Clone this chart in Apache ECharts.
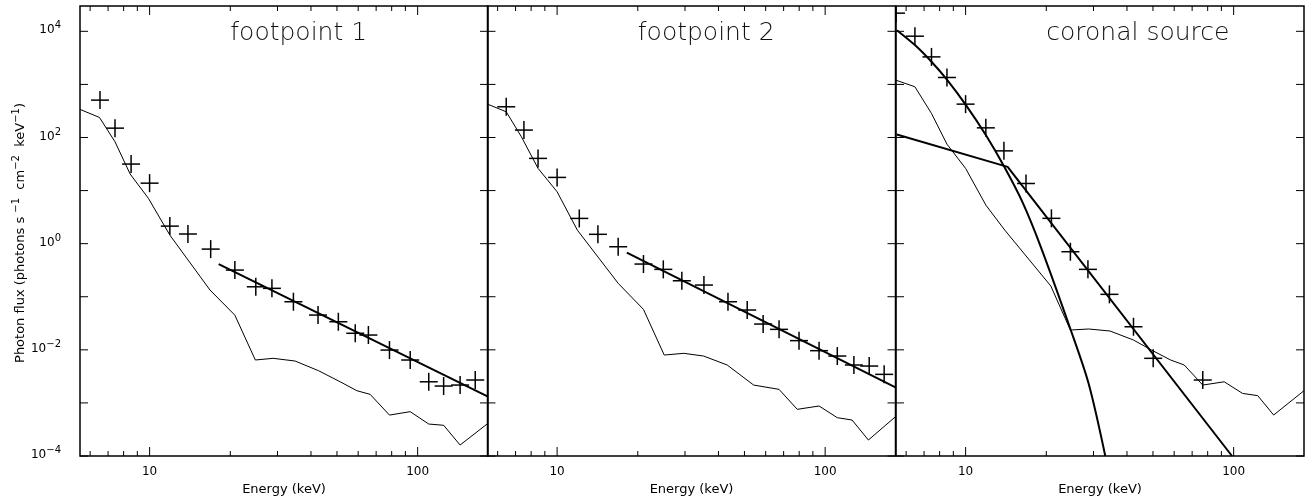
<!DOCTYPE html>
<html>
<head>
<meta charset="utf-8">
<script src="https://cdn.jsdelivr.net/npm/echarts@6/dist/echarts.min.js"></script>
<style>
  html, body { margin: 0; padding: 0; background: #fff; }
  #chart { width: 1309px; height: 500px; }
</style>
</head>
<body>
<div id="chart"></div>
<script>
// axes
const xRange = [5.5, 183];
const yRange = [1e-4, 3e4];
const xMajorTicks = [10, 100];
const xMinorTicks = [6, 7, 8, 9, 20, 30, 40, 50, 60, 70, 80, 90];
const yTicks = [1e-4, 1e-3, 1e-2, 1e-1, 1, 10, 1e2, 1e3, 1e4];
const yTickExponents = ['−4', '', '−2', '', '0', '', '2', '', '4'];
const panelTitles = ['footpoint 1', 'footpoint 2', 'coronal source'];
const titleEnergy = 20;

// footpoint 1
const fp1Energy = [6.53, 7.43, 8.53, 10.0, 11.9, 13.9, 16.9, 20.8, 24.9, 28.6, 34.4, 42.5, 50.6, 58.5, 65.5, 78.5, 93.8, 110, 125, 144, 164];
const fp1Flux = [506, 150, 31.6, 13.8, 2.14, 1.52, 0.79, 0.318, 0.154, 0.144, 0.0805, 0.0452, 0.0338, 0.0205, 0.019, 0.0099, 0.00643, 0.0025, 0.00208, 0.00217, 0.0027];
const fp1BgEnergy = [5.5, 6.5, 7.43, 8.46, 9.9, 11.9, 16.8, 20.8, 24.8, 28.9, 34.9, 42.7, 51.4, 59.3, 66.5, 78.5, 93.8, 110, 125, 144, 183];
const fp1BgFlux = [338, 239, 83, 20.5, 7.13, 1.45, 0.134, 0.045, 0.00643, 0.00692, 0.00615, 0.00404, 0.0025, 0.0017, 0.00145, 0.00059, 0.000684, 0.0004, 0.000379, 0.000161, 0.000413];
const fp1FitEnergy = [18.1, 183];
const fp1FitFlux = [0.413, 0.00131];

// footpoint 2
const fp2Energy = [6.46, 7.52, 8.49, 10.0, 12.1, 14.2, 16.9, 21.0, 24.9, 29.2, 35.3, 43.4, 51.2, 58.7, 67.3, 79.9, 94.9, 111, 128, 146, 166];
const fp2Flux = [379, 138, 40.4, 17.7, 2.99, 1.5, 0.875, 0.413, 0.328, 0.2, 0.166, 0.0805, 0.0562, 0.0306, 0.0243, 0.0149, 0.00964, 0.00764, 0.00518, 0.00495, 0.00345];
const fp2BgEnergy = [5.5, 6.46, 7.36, 8.49, 10.0, 11.9, 16.9, 21.0, 25.1, 29.7, 35.2, 43.1, 54.1, 67.3, 78.7, 94.9, 111, 126, 145, 183];
const fp2BgFlux = [425, 305, 103, 26.2, 9.5, 1.8, 0.179, 0.0578, 0.00798, 0.00859, 0.00764, 0.00518, 0.00217, 0.0018, 0.000757, 0.000875, 0.000527, 0.000476, 0.0002, 0.00055];
const fp2FitEnergy = [18.2, 183];
const fp2FitFlux = [0.675, 0.00197];

// coronal source
const csEnergy = [5.5, 6.47, 7.46, 8.52, 10.0, 11.9, 13.9, 16.8, 20.9, 24.6, 28.6, 34.4, 42.3, 50.1, 76.7];
const csFlux = [2.2e4, 8.1e3, 3.3e3, 1.35e3, 425, 152, 56, 13.6, 3.0, 0.705, 0.328, 0.111, 0.0272, 0.00692, 0.0027];
const csBgEnergy = [5.5, 6.47, 7.46, 8.52, 10.0, 11.9, 14.0, 20.8, 24.6, 28.8, 34.6, 42.3, 49.4, 58.2, 65.4, 76.7, 92.2, 108, 123, 141, 183];
const csBgFlux = [1200, 902, 284, 75, 26.2, 5.33, 1.8, 0.159, 0.0236, 0.0247, 0.0226, 0.0153, 0.0099, 0.00643, 0.00518, 0.00217, 0.0025, 0.00151, 0.00137, 0.000591, 0.0017];
const csThermalEnergy = [5.54, 6.47, 7.46, 8.52, 10.06, 11.93, 13.94, 16.3, 19.06, 24.6, 28.8, 33.2];
const csThermalFlux = [1.05e4, 5.5e3, 2.67e3, 1.23e3, 399, 109, 28.1, 6.07, 0.881, 0.0247, 0.00227, 1e-4];
const csNonthEnergy = [5.54, 14.35, 98.6];
const csNonthFlux = [114, 28, 1e-4];

const panels = [
  {crossE: fp1Energy, crossF: fp1Flux, thin: [[fp1BgEnergy, fp1BgFlux]], thick: [[fp1FitEnergy, fp1FitFlux]]},
  {crossE: fp2Energy, crossF: fp2Flux, thin: [[fp2BgEnergy, fp2BgFlux]], thick: [[fp2FitEnergy, fp2FitFlux]]},
  {crossE: csEnergy, crossF: csFlux, thin: [[csBgEnergy, csBgFlux]], thick: [[csThermalEnergy, csThermalFlux], [csNonthEnergy, csNonthFlux]]}
];

const FONT = 'DejaVu Sans';
const zip = (a, b) => a.map((v, i) => [v, b[i]]);
const seg = (x1, y1, x2, y2, w) => ({type: 'line', shape: {x1, y1, x2, y2}, style: {stroke: '#000', lineWidth: w}});
const txt = (x, y, text, size, align, extra) => Object.assign({
  type: 'text', x, y,
  style: {text, x: 0, y: 0, fill: '#000', fontSize: size, fontFamily: FONT, align, verticalAlign: 'middle'}
}, extra || {});
// rich text with raised exponents
const supRich = (base, sup) => ({
  n: {fontSize: base, fontFamily: FONT, fill: '#000'},
  s: {fontSize: sup, fontFamily: FONT, fill: '#000', padding: [0, 0, Math.round(base * 0.75), 0]}
});

// "+" marks clipped to the plot box
function renderCross(params, api) {
  const p = api.coord([api.value(0), api.value(1)]);
  const cs = params.coordSys;
  const cx = v => Math.min(Math.max(v, cs.x), cs.x + cs.width);
  const cy = v => Math.min(Math.max(v, cs.y), cs.y + cs.height);
  return {type: 'group', children: [
    seg(cx(p[0] - 9), cy(p[1]), cx(p[0] + 9), cy(p[1]), 1.5),
    seg(cx(p[0]), cy(p[1] - 9), cx(p[0]), cy(p[1] + 9), 1.5)
  ]};
}

// tick marks, tick labels and titles of one panel
function frameRenderer(idx) {
  return function (params, api) {
    const cs = params.coordSys;
    const top = cs.y, bottom = cs.y + cs.height, left = cs.x, right = cs.x + cs.width;
    const ch = [];
    xMajorTicks.forEach(v => {
      const x = api.coord([v, 1])[0];
      ch.push(seg(x, bottom, x, bottom - 9, 1), seg(x, top, x, top + 9, 1));
      ch.push(txt(x, bottom + 16, String(v), 12, 'center'));
    });
    xMinorTicks.forEach(v => {
      const x = api.coord([v, 1])[0];
      ch.push(seg(x, bottom, x, bottom - 5, 1), seg(x, top, x, top + 5, 1));
    });
    yTicks.forEach((v, i) => {
      const y = api.coord([10, v])[1];
      ch.push(seg(left, y, left + 8, y, 1), seg(right, y, right - 8, y, 1));
      if (idx === 0 && yTickExponents[i]) {
        ch.push({type: 'text', x: left - 19, y: y - 1,
          style: {text: '{n|10}{s|' + yTickExponents[i] + '}', x: 0, y: 0, align: 'right', verticalAlign: 'middle',
                  rich: supRich(12, 10)}});
      }
    });
    ch.push(txt((left + right) / 2, bottom + 34, 'Energy (keV)', 13, 'center'));
    const tx = api.coord([titleEnergy, 1])[0];
    ch.push({type: 'text', x: tx, y: top + 27,
      style: {text: panelTitles[idx], x: 0, y: 0, fill: '#111', fontSize: 25, fontWeight: 200,
              fontFamily: FONT, align: 'left', verticalAlign: 'middle'}});
    if (idx === 0) {
      ch.push({type: 'text', x: 21, y: (top + bottom) / 2 + 2, rotation: Math.PI / 2,
        style: {text: '{n|Photon flux (photons s }{s|−1}{n|  cm}{s|−2}{n|  keV}{s|−1}{n|)}',
                x: 0, y: 0, align: 'center', verticalAlign: 'middle', rich: supRich(13, 10)}});
    }
    return {type: 'group', children: ch};
  };
}

const grids = [], xAxes = [], yAxes = [], series = [];
panels.forEach((p, i) => {
  grids.push({left: [80, 487.5, 896][i], top: 6, width: 408, height: 450,
    show: true, borderColor: '#000', borderWidth: 1.5, backgroundColor: 'transparent'});
  xAxes.push({type: 'log', logBase: 10, gridIndex: i, min: xRange[0], max: xRange[1], show: false});
  yAxes.push({type: 'log', logBase: 10, gridIndex: i, min: yRange[0], max: yRange[1], show: false});
  p.thin.forEach(d => series.push({
    type: 'line', xAxisIndex: i, yAxisIndex: i, data: zip(d[0], d[1]),
    showSymbol: false, symbol: 'none', lineStyle: {color: '#000', width: 1}, clip: true
  }));
  p.thick.forEach((d, k) => series.push({
    type: 'line', xAxisIndex: i, yAxisIndex: i, data: zip(d[0], d[1]),
    showSymbol: false, symbol: 'none', smooth: (i === 2 && k === 0) ? 0.3 : false,
    lineStyle: {color: '#000', width: 2}, clip: true
  }));
  series.push({type: 'custom', xAxisIndex: i, yAxisIndex: i, data: zip(p.crossE, p.crossF), renderItem: renderCross});
  series.push({type: 'custom', xAxisIndex: i, yAxisIndex: i, data: [[10, 1]], renderItem: frameRenderer(i), z: 5});
});

const chart = echarts.init(document.getElementById('chart'));
chart.setOption({
  animation: false,
  backgroundColor: '#fff',
  grid: grids,
  xAxis: xAxes,
  yAxis: yAxes,
  series: series
});
</script>
</body>
</html>
